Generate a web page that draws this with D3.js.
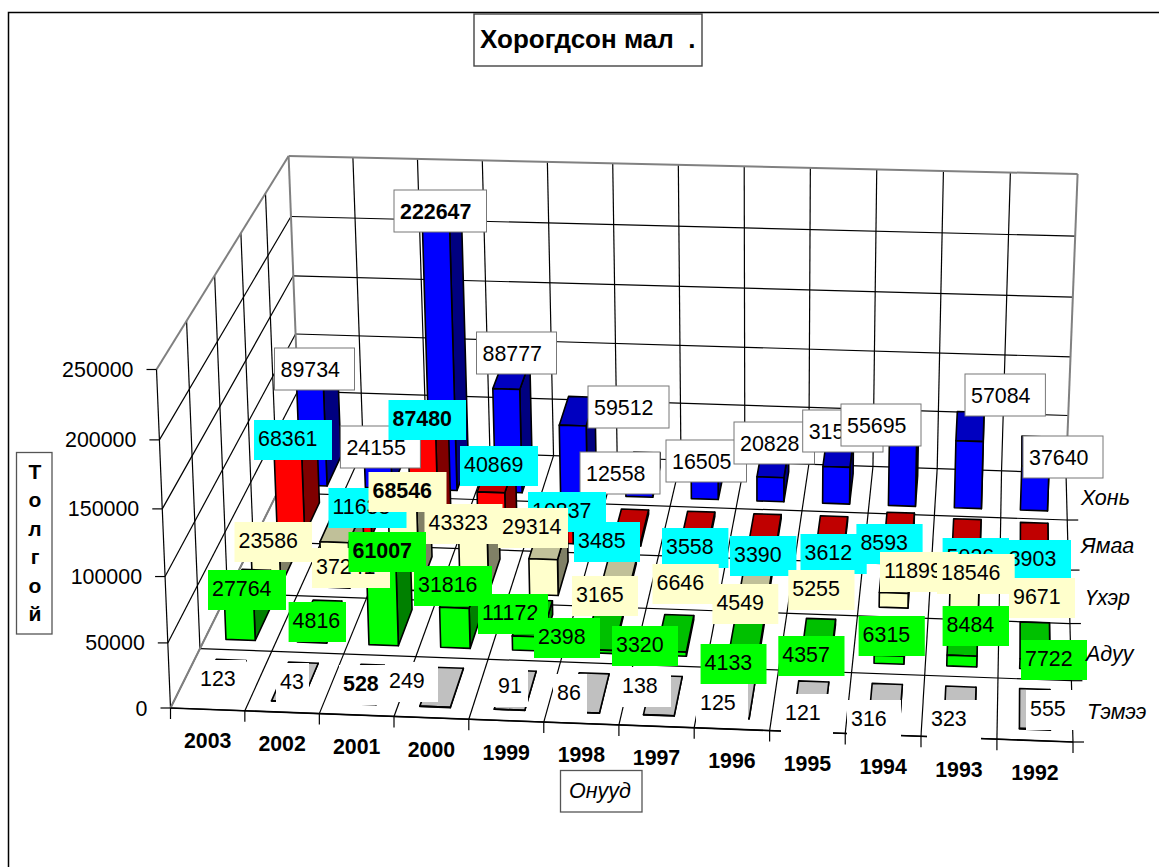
<!DOCTYPE html>
<html><head><meta charset="utf-8">
<style>html,body{margin:0;padding:0;background:#fff}svg{display:block}</style>
<script src="https://cdn.jsdelivr.net/npm/d3@7"></script></head><body>
<script>
// ---------- data ----------
const years = ["2003","2002","2001","2000","1999","1998","1997","1996","1995","1994","1993","1992"];
const seriesNames = ["Хонь","Ямаа","Үхэр","Адуу","Тэмээ"];
const hon   = [89734,24155,222647,88777,59512,12558,16505,20828,31516,55695,57084,37640];
const yamaa = [68361,11638,87480,40869,10837,3485,3558,3390,3612,8593,5026,3903];
const uher  = [23586,37241,68546,43323,29314,3165,6646,4549,5255,11899,18546,9671];
const aduu  = [27764,4816,61007,31816,11172,2398,3320,4133,4357,6315,8484,7722];
const temee = [123,43,528,249,91,86,138,125,121,316,323,555];
const valueTicks = [0,50000,100000,150000,200000,250000];
const boldYears = ["2001"];

// ---------- layout (hand-placed label boxes, as in the original: left, top, width) ----------
const honBoxes = [[274.5,348,80],[340.4,426,80],[394,190,92.5],[476.5,332,80],[588,386,81],[580,452,80],[666,440,80.5],[734,422,80.5],[802.7,410,80.3],[841,404,80],[965,374,80.4],[1023,436,80]];
const yamaaBoxes = [[254,420,78],[328.5,488,78],[388.5,400,77.5],[460,446,78],[528,492,78],[574,522,66],[662,528,66.4],[730,536,66.4],[800.5,534,66.2],[856.4,524,66.2],[942.6,538,66.4],[1004.7,540,66.3]];
const uherBoxes = [[234.5,522,77.5],[312,548,78],[368.5,472,78],[424.5,504,78],[498,508,70],[572,576,66],[652.5,564,66.2],[712.4,584,65.9],[788.3,570,66.2],[880,552,78],[937,554,77.7],[1009,578,66]];
const aduuBoxes = [[208,570,78],[288.6,602,57.4],[348.5,532,77.5],[414,566,78],[478,594,70],[534,618,66],[612,626,66],[700.6,644,65.9],[778.3,636,66.2],[858.6,616,66.2],[942.6,606,66.4],[1021,640,66]];
const temeeBoxes = [[196,660,50],[276,663,33],[339,665,46],[385,662,53],[494,667,34],[553,674,34],[618,667,53],[696,684,52],[781,694,52],[847,700,54],[927,700,54],[1026,690,53]];

const series = [
  {name:seriesNames[0], values:hon,   boxes:honBoxes,   front:"#0000ff", side:"#000080", top:"#0000c0", box:"#ffffff", border:true},
  {name:seriesNames[1], values:yamaa, boxes:yamaaBoxes, front:"#ff0000", side:"#800000", top:"#c00000", box:"#00ffff", border:false},
  {name:seriesNames[2], values:uher,  boxes:uherBoxes,  front:"#ffffcc", side:"#808066", top:"#c0c099", box:"#ffffcc", border:false},
  {name:seriesNames[3], values:aduu,  boxes:aduuBoxes,  front:"#00ff00", side:"#008000", top:"#00c000", box:"#00ff00", border:false},
  {name:seriesNames[4], values:temee, boxes:temeeBoxes, front:"#ffffff", side:"#808080", top:"#c0c0c0", box:"#ffffff", border:false}
];
const seriesLabelPos = [[1081,497],[1081,545],[1085,597],[1086,653],[1087,711]];

const W = 1159, H = 867;
const FONT = "'Liberation Sans', Arial, sans-serif";
const svg = d3.select("body").append("svg").attr("width",W).attr("height",H).style("font-family",FONT);

// outer chart frame
svg.append("path").attr("d",`M8.5,${H} V12.5 H${W}`).attr("fill","none").attr("stroke","#000").attr("stroke-width",1.5);

// ---------- projection: unit cube -> screen ----------
function quadMap(q){
  const [[x0,y0],[x1,y1],[x2,y2],[x3,y3]] = q;
  const dx1=x1-x2,dx2=x3-x2,sx=x0-x1+x2-x3,dy1=y1-y2,dy2=y3-y2,sy=y0-y1+y2-y3;
  const det=dx1*dy2-dx2*dy1, g=(sx*dy2-dx2*sy)/det, h=(dx1*sy-sx*dy1)/det;
  const a=x1-x0+g*x1,b=x3-x0+h*x3,d=y1-y0+g*y1,e=y3-y0+h*y3;
  return (u,v)=>{const w=g*u+h*v+1;return [(a*u+b*v+x0)/w,(d*u+e*v+y0)/w];};
}
const floorMap = quadMap([[170.5,708],[1073,742],[1066,473],[300,447]]);
const topMap   = quadMap([[156.5,369.5],[1087,397],[1077.6,174],[288.6,156]]);
const warp = t => t/(t+(1-t)*1.05);
function project(u,v,h){
  const a=floorMap(u,v), b=topMap(u,v), t=warp(h);
  return [a[0]+(b[0]-a[0])*t, a[1]+(b[1]-a[1])*t];
}
const xBand = d3.scaleBand().domain(years).range([0,1]);
const zBand = d3.scaleBand().domain(seriesNames).range([1,0]);
const yVal  = d3.scaleLinear().domain([0,250000]).range([0,1]);
const xEdges = d3.range(years.length+1).map(i=>i*xBand.step());
const zEdges = d3.range(seriesNames.length+1).map(i=>i*zBand.step());
const line = d3.line();
const seg = (g,a,b,stroke,w)=>g.append("path").attr("d",line([a,b])).attr("stroke",stroke).attr("stroke-width",w).attr("fill","none");

// ---------- walls & floor ----------
const grid = svg.append("g");
const GRID="#000";
valueTicks.forEach(t=>{
  const h=yVal(t);
  if(t>0 && t<250000){
    seg(grid,project(0,1,h),project(1,1,h),GRID,1.2);
    seg(grid,project(0,0,h),project(0,1,h),GRID,1.2);
  }
});
xEdges.slice(1,-1).forEach(u=>seg(grid,project(u,1,0),project(u,1,1),GRID,1.2));
zEdges.slice(1,-1).forEach(v=>seg(grid,project(0,v,0),project(0,v,1),GRID,1.2));
// floor grid
xEdges.forEach(u=>seg(grid,project(u,0,0),project(u,1,0),GRID,1.2));
zEdges.forEach(v=>seg(grid,project(0,v,0),project(1,v,0),GRID,1.2));
// left front vertical
seg(grid,project(0,0,0),project(0,0,1),GRID,1.2);
// gray frame edges
[[[0,0,0],[0,1,0]],[[0,1,0],[0,1,1]],[[0,1,1],[1,1,1]],[[1,1,1],[1,1,0]],[[0,0,1],[0,1,1]]].forEach(([a,b])=>
  seg(grid,project(...a),project(...b),"#808080",2));
seg(grid,project(0,0,0),project(1,0,0),"#000",1.6);
// axis ticks
const ticks = svg.append("g");
xEdges.forEach(u=>{const p=project(u,0,0);seg(ticks,p,[p[0],p[1]+11],"#000",1.2);});
zEdges.forEach(v=>{const p=project(1,v,0);seg(ticks,p,[p[0]+11,p[1]],"#000",1.2);});
valueTicks.forEach(t=>{const p=project(0,0,yVal(t));seg(ticks,[p[0]-10,p[1]],p,"#000",1.2);
  ticks.append("text").attr("x",p[0]-23).attr("y",p[1]+7.5).attr("text-anchor","end").attr("font-size",21.4).attr("fill","#000").text(t);
});

// ---------- bars ----------
const WIDTH=0.41, DEPTH=0.65;
const barsG = svg.append("g");
const poly = (pts,fill)=>barsG.append("path").attr("d",line(pts)+"Z").attr("fill",fill).attr("stroke","#000").attr("stroke-width",1.6).attr("stroke-linejoin","round");
series.forEach(s=>{
  s.values.forEach((val,i)=>{
    const u0=xBand(years[i])+xBand.step()*(1-WIDTH)/2, u1=u0+xBand.step()*WIDTH;
    const v0=zBand(s.name)+zBand.step()*(1-DEPTH)/2, v1=v0+zBand.step()*DEPTH;
    const h=yVal(val);
    poly([project(u1,v0,0),project(u1,v1,0),project(u1,v1,h),project(u1,v0,h)],s.side);
    poly([project(u0,v0,h),project(u1,v0,h),project(u1,v1,h),project(u0,v1,h)],s.top);
    poly([project(u0,v0,0),project(u1,v0,0),project(u1,v0,h),project(u0,v0,h)],s.front);
  });
});

// ---------- value labels ----------
const labels = svg.append("g");
series.forEach(s=>{
  s.values.forEach((val,i)=>{
    const [l,t,w]=s.boxes[i];
    const r=labels.append("rect").attr("x",l).attr("y",t).attr("width",w).attr("height",s.border?42:40).attr("fill",s.box);
    if(s.border) r.attr("stroke","#777").attr("stroke-width",1);
    const isBold = years[i]===boldYears[0];
    labels.append("text").attr("x",l+(s.border?6:4)).attr("y",t+(s.border?28.5:26))
      .attr("font-size",21.4).attr("font-weight",isBold?"bold":"normal").attr("fill","#000").text(val);
  });
});

// ---------- axis labels ----------
const axisLabels = svg.append("g");
years.forEach(y=>{
  const p=project(xBand(y)+xBand.bandwidth()/2,0,0);
  axisLabels.append("text").attr("x",p[0]).attr("y",p[1]+39).attr("text-anchor","middle")
    .attr("font-size",21.3).attr("font-weight","bold").text(y);
});
seriesNames.forEach((n,i)=>{
  axisLabels.append("text").attr("x",seriesLabelPos[i][0]).attr("y",seriesLabelPos[i][1]+7.5)
    .attr("font-size",21.5).attr("font-style","italic").text(n);
});

// ---------- titles ----------
const titles=svg.append("g");
titles.append("rect").attr("x",474).attr("y",14).attr("width",228).attr("height",52).attr("fill","#fff").attr("stroke","#444").attr("stroke-width",1.4);
titles.append("text").attr("x",480).attr("y",48).attr("font-size",26).attr("font-weight","bold").style("white-space","pre").text("Хорогдсон мал  .");
titles.append("rect").attr("x",16.5).attr("y",452.5).attr("width",35.5).attr("height",181.5).attr("fill","#fff").attr("stroke","#555").attr("stroke-width",1.3);
["Т","о","л","г","о","й"].forEach((c,i)=>{
  titles.append("text").attr("x",35).attr("y",479+i*28.4).attr("text-anchor","middle").attr("font-size",21).attr("font-weight","bold").text(c);
});
titles.append("rect").attr("x",560.5).attr("y",770.5).attr("width",81.5).attr("height",41.5).attr("fill","#fff").attr("stroke","#555").attr("stroke-width",1.3);
titles.append("text").attr("x",600).attr("y",798).attr("text-anchor","middle").attr("font-size",21.5).attr("font-style","italic").text("Онууд");
</script></body></html>
